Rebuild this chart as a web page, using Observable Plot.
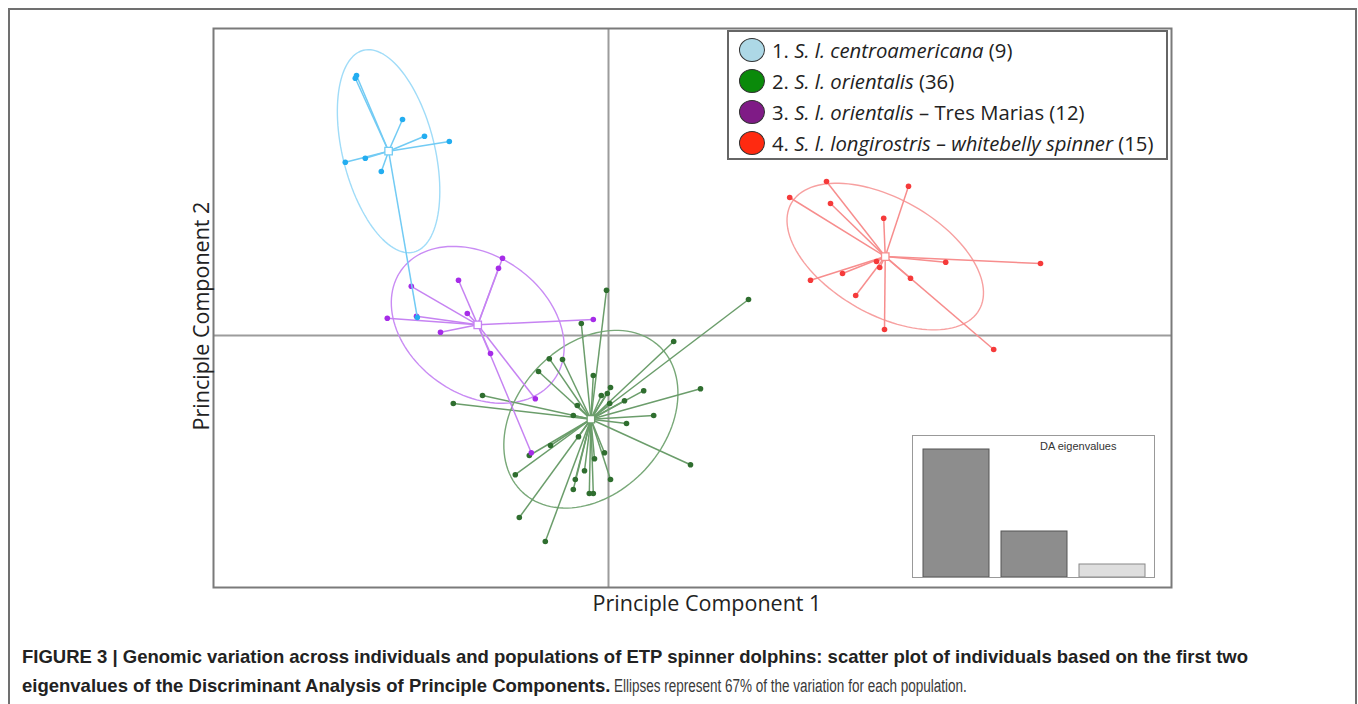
<!DOCTYPE html>
<html><head><meta charset="utf-8">
<script src="https://cdn.jsdelivr.net/npm/d3@7"></script>
<script src="https://cdn.jsdelivr.net/npm/@observablehq/plot@0.6"></script>
<style>
body{margin:0;width:1358px;height:704px;overflow:hidden;background:#fff;position:relative;font-family:"Open Sans",sans-serif}
#outer{position:absolute;left:8px;top:8px;width:1345px;height:740px;border:2px solid #707070;border-bottom:none}
#main{position:absolute;left:0;top:0}
#xlab{position:absolute;left:557px;top:588px;width:300px;text-align:center;font-size:21.5px;color:#222;white-space:nowrap}
#ylab{position:absolute;left:200px;top:316px;font-size:21.5px;color:#222;white-space:nowrap;transform:translate(-50%,-50%) rotate(-90deg)}
#legend{position:absolute;left:727px;top:30px;width:437px;height:126px;border:2px solid #666;background:#fff}
#legend .row{position:absolute;left:10px;height:26px;display:flex;align-items:center;font-size:20.3px;color:#222;white-space:nowrap}
#legend .sw{width:26px;height:24px;border-radius:50%;border:1.5px solid #333;margin-right:7px;box-sizing:border-box;flex:none}
#inset{position:absolute;left:912px;top:435px;width:241px;height:141px;border:1.5px solid #999;background:#fff}
#inset .t{position:absolute;left:127px;top:4px;font:11px "Liberation Sans",Arial,sans-serif;color:#333}
#caption{position:absolute;left:22px;top:642px;font:18.5px/29px "Liberation Sans",Arial,sans-serif;color:#222;white-space:nowrap}
#caption b{font-weight:bold}
#caption .reg{display:inline-block;font-size:18px;color:#3a3a3a;transform:scaleX(0.75);transform-origin:0 50%;margin-left:4px}
</style></head><body>
<div id="outer"></div>
<div id="main"></div>
<div id="xlab">Principle Component 1</div>
<div id="ylab">Principle Component 2</div>
<div id="legend"></div>
<div id="inset"><div class="t">DA eigenvalues</div></div>
<div id="caption"><b>FIGURE 3 | Genomic variation across individuals and populations of ETP spinner dolphins: scatter plot of individuals based on the first two</b><br><b>eigenvalues of the Discriminant Analysis of Principle Components.</b><span class="reg">Ellipses represent 67% of the variation for each population.</span></div>
<script>
// ---- Data (discriminant function scores) ----
const populations = ["centroamericana", "orientalis", "tresMarias", "longirostris"];
const legendLabels = [
  "1. <i>S. l. centroamericana</i> (9)",
  "2. <i>S. l. orientalis</i> (36)",
  "3. <i>S. l. orientalis</i> – Tres Marias (12)",
  "4. <i>S. l. longirostris – whitebelly spinner</i> (15)"
];
const centroamericanaLD1 = [-6.30, -6.33, -5.15, -4.60, -3.98, -6.58, -6.08, -5.68, -4.78];
const centroamericanaLD2 = [6.50, 6.43, 5.40, 4.98, 4.85, 4.33, 4.43, 4.10, 0.45];
const orientalisLD1 = [-0.05, 3.50, -0.68, 1.63, -1.48, -1.15, -1.75, -0.38, 0.05, -0.03, -0.18, 0.88,
  2.30, -3.15, -3.88, 0.40, 0.03, -0.78, -0.88, 1.13, 0.45, -0.75, -1.45, -1.98, -0.10, -0.35, 2.05,
  -0.60, -2.33, -0.83, 0.05, -0.88, -0.48, -0.38, -2.23, -1.58];
const orientalisLD2 = [1.13, 0.90, 0.30, -0.15, -0.58, -0.60, -0.90, -1.00, -1.30, -1.45, -1.50, -1.38,
  -1.33, -1.50, -1.70, -1.63, -1.70, -1.75, -2.00, -2.00, -2.20, -2.53, -2.75, -3.00, -2.93, -3.08, -3.23,
  -3.38, -3.48, -3.60, -3.60, -3.85, -3.95, -3.95, -4.55, -5.15];
const tresMariasLD1 = [-2.65, -2.75, -3.75, -4.93, -3.53, -5.53, -4.80, -4.20, -2.95, -0.38, -1.83, -1.93];
const tresMariasLD2 = [1.93, 1.68, 1.38, 1.23, 0.55, 0.43, 0.48, 0.08, -0.45, 0.40, -1.58, -2.93];
const longirostrisLD1 = [5.45, 7.50, 4.53, 5.55, 6.88, 8.43, 10.80, 6.70, 6.78, 5.85, 5.05, 7.55, 6.18, 6.90, 9.63];
const longirostrisLD2 = [3.85, 3.73, 3.45, 3.30, 2.93, 1.83, 1.80, 1.85, 1.70, 1.55, 1.38, 1.43, 1.00, 0.15, -0.35];
// 67% inertia ellipses: semi-axes and rotation (degrees) per population
const ellipseSemiMajor = [2.60, 2.50, 2.35, 2.70];
const ellipseSemiMinor = [1.15, 1.85, 1.73, 1.45];
const ellipseAngle = [104, 47, -35.5, -29.5];
// DA eigenvalues inset
const eigenIndex = ["1", "2", "3"];
const eigenValues = [12.8, 4.6, 1.3];
const eigenRetained = [true, true, false];

// ---- styles ----
const pointColor = {centroamericana: "#23adf0", orientalis: "#2f6e2f", tresMarias: "#a62ce8", longirostris: "#f53a3a"};
const lineColor = {centroamericana: "#72cbf4", orientalis: "#6b9d6b", tresMarias: "#c683f2", longirostris: "#f78d8d"};
const ellColor = {centroamericana: "#a0dcf8", orientalis: "#78a878", tresMarias: "#c98cf4", longirostris: "#f7a0a0"};
const swatch = ["#add8e6", "#0a8a0a", "#7f1b86", "#ff2a10"];

const raw = {
  centroamericana: [centroamericanaLD1, centroamericanaLD2],
  orientalis: [orientalisLD1, orientalisLD2],
  tresMarias: [tresMariasLD1, tresMariasLD2],
  longirostris: [longirostrisLD1, longirostrisLD2]
};
const centroids = populations.map(p => ({pop: p, x: d3.mean(raw[p][0]), y: d3.mean(raw[p][1])}));
const points = populations.flatMap((p, i) => raw[p][0].map((x, j) => ({pop: p, x, y: raw[p][1][j], cx: centroids[i].x, cy: centroids[i].y})));
const ellipses = populations.flatMap((p, i) => {
  const a = ellipseSemiMajor[i], b = ellipseSemiMinor[i], th = ellipseAngle[i] * Math.PI / 180;
  const c = centroids[i];
  return d3.range(0, 121).map(k => {
    const t = k / 120 * 2 * Math.PI;
    return {pop: p, x: c.x + a * Math.cos(th) * Math.cos(t) - b * Math.sin(th) * Math.sin(t),
            y: c.y + a * Math.sin(th) * Math.cos(t) + b * Math.cos(th) * Math.sin(t)};
  });
});
const order = ["orientalis", "tresMarias", "centroamericana", "longirostris"];
const byOrder = arr => order.map(p => arr.filter(d => d.pop === p));

const main = Plot.plot({
  width: 1358, height: 625,
  marginLeft: 213, marginRight: 187, marginTop: 28, marginBottom: 38,
  x: {domain: [-9.875, 14.075], axis: null},
  y: {domain: [-6.3, 7.675], axis: null},
  color: {type: "identity"},
  style: {background: "transparent", overflow: "visible"},
  marks: [
    Plot.ruleX([0], {stroke: "#9c9c9c", strokeWidth: 2}),
    Plot.ruleY([0], {stroke: "#9c9c9c", strokeWidth: 2}),
    ...byOrder(ellipses).map(e => Plot.line(e, {x: "x", y: "y", stroke: d => ellColor[d.pop], strokeWidth: 1.4})),
    ...byOrder(points).flatMap(pts => [
      Plot.link(pts, {x1: "cx", y1: "cy", x2: "x", y2: "y", stroke: d => lineColor[d.pop], strokeWidth: 1.5}),
      Plot.dot(pts, {x: "x", y: "y", r: 2.8, fill: d => pointColor[d.pop]})
    ]),
    Plot.dot(centroids, {x: "x", y: "y", symbol: "square", r: 4.2, fill: "white", stroke: d => lineColor[d.pop], strokeWidth: 1.3}),
    Plot.frame({stroke: "#7a7a7a", strokeWidth: 2})
  ]
});
document.getElementById("main").appendChild(main);

// legend
const lg = document.getElementById("legend");
legendLabels.forEach((lab, i) => {
  const row = document.createElement("div");
  row.className = "row";
  row.style.top = (5 + i * 31) + "px";
  row.innerHTML = `<span class="sw" style="background:${swatch[i]}"></span><span>${lab}</span>`;
  lg.appendChild(row);
});

// inset bar chart
const eig = eigenIndex.map((k, i) => ({k, v: eigenValues[i], kept: eigenRetained[i]}));
const inset = Plot.plot({
  width: 241, height: 141,
  marginLeft: 9, marginRight: 9, marginTop: 0, marginBottom: 0,
  x: {domain: eigenIndex, paddingInner: 0.16, paddingOuter: 0, axis: null},
  y: {domain: [0, 14.1], axis: null},
  color: {type: "identity"},
  style: {background: "transparent"},
  marks: [
    Plot.barY(eig, {x: "k", y: "v", fill: d => d.kept ? "#8d8d8d" : "#dedede", stroke: d => d.kept ? "#555" : "#888", strokeWidth: 1})
  ]
});
inset.style.position = "absolute"; inset.style.left = "0"; inset.style.top = "0";
document.getElementById("inset").appendChild(inset);
</script>
</body></html>
